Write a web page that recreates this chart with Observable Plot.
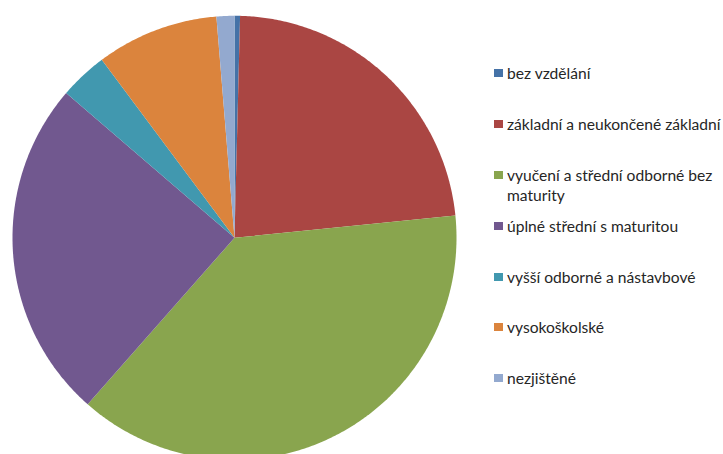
<!DOCTYPE html>
<html>
<head>
<meta charset="utf-8">
<script src="https://cdn.jsdelivr.net/npm/d3@7"></script>
<script src="https://cdn.jsdelivr.net/npm/@observablehq/plot@0.6"></script>
<style>
html, body { margin: 0; padding: 0; background: #fff; width: 723px; height: 454px; overflow: hidden; }
#wrap { position: relative; width: 723px; height: 454px; overflow: hidden; }
#chart { position: absolute; left: 0; top: 0; }
#legend { position: absolute; left: 0; top: 0; font-family: Lato, "Open Sans", sans-serif; font-size: 15.6px; color: #262626; }
.item { position: absolute; left: 494px; white-space: nowrap; line-height: 20px; }
.sw { position: absolute; left: 0; top: 6px; width: 9px; height: 8px; }
.txt { position: absolute; left: 13px; top: 0; }
</style>
</head>
<body>
<div id="wrap"><div id="chart"></div><div id="legend"></div></div>
<script>
const categories = [
  "bez vzdělání",
  "základní a neukončené základní",
  "vyučení a střední odborné bez maturity",
  "úplné střední s maturitou",
  "vyšší odborné a nástavbové",
  "vysokoškolské",
  "nezjištěné"
];
const values = [0.4, 23.0, 38.1, 24.8, 3.5, 8.9, 1.3];
const colors = ["#4572A7", "#AA4643", "#89A54E", "#71588F", "#4198AF", "#DB843D", "#93A9CF"];

const arcs = d3.pie().sort(null).value(d => d)(values);
function slicePolygon(a0, a1) {
  const n = Math.max(2, Math.ceil((a1 - a0) / (Math.PI / 360)));
  const pts = [[0, 0]];
  for (let i = 0; i <= n; i++) {
    const a = a0 + (a1 - a0) * i / n;
    pts.push([Math.sin(a), Math.cos(a)]);
  }
  pts.push([0, 0]);
  return pts;
}
const features = arcs.map((a, i) => ({
  type: "Feature",
  properties: {category: categories[i], value: values[i]},
  geometry: {type: "Polygon", coordinates: [slicePolygon(a.startAngle, a.endAngle)]}
}));

const W = 723, H = 460, R = 222, CX = 234, CY = 237.3;
const chart = Plot.plot({
  width: W,
  height: H,
  marginLeft: CX - R,
  marginTop: CY - R,
  marginRight: W - (CX + R),
  marginBottom: H - (CY + R),
  projection: {type: "reflect-y", domain: {type: "MultiPoint", coordinates: [[-1, -1], [1, 1]]}},
  color: {domain: categories, range: colors},
  marks: [
    Plot.geo(features, {fill: d => d.properties.category, stroke: "none"})
  ]
});
document.getElementById("chart").appendChild(chart);

// legend
const legend = document.getElementById("legend");
const step = 50.8, firstCenter = 73.3;
function wrapLabel(s, maxChars) {
  if (s.length <= 31) return [s];
  const words = s.split(" ");
  const lines = [];
  let cur = "";
  for (const w of words) {
    if ((cur + " " + w).trim().length > maxChars) { lines.push(cur); cur = w; }
    else cur = (cur + " " + w).trim();
  }
  if (cur) lines.push(cur);
  return lines;
}
categories.forEach((c, i) => {
  const item = document.createElement("div");
  item.className = "item";
  item.style.top = (firstCenter + i * step - 10) + "px";
  const sw = document.createElement("div");
  sw.className = "sw";
  sw.style.background = colors[i];
  const t = document.createElement("div");
  t.className = "txt";
  t.innerHTML = wrapLabel(c, 29).map(l => l.replace(/&/g, "&amp;")).join("<br>");
  item.appendChild(sw);
  item.appendChild(t);
  legend.appendChild(item);
});
</script>
</body>
</html>
